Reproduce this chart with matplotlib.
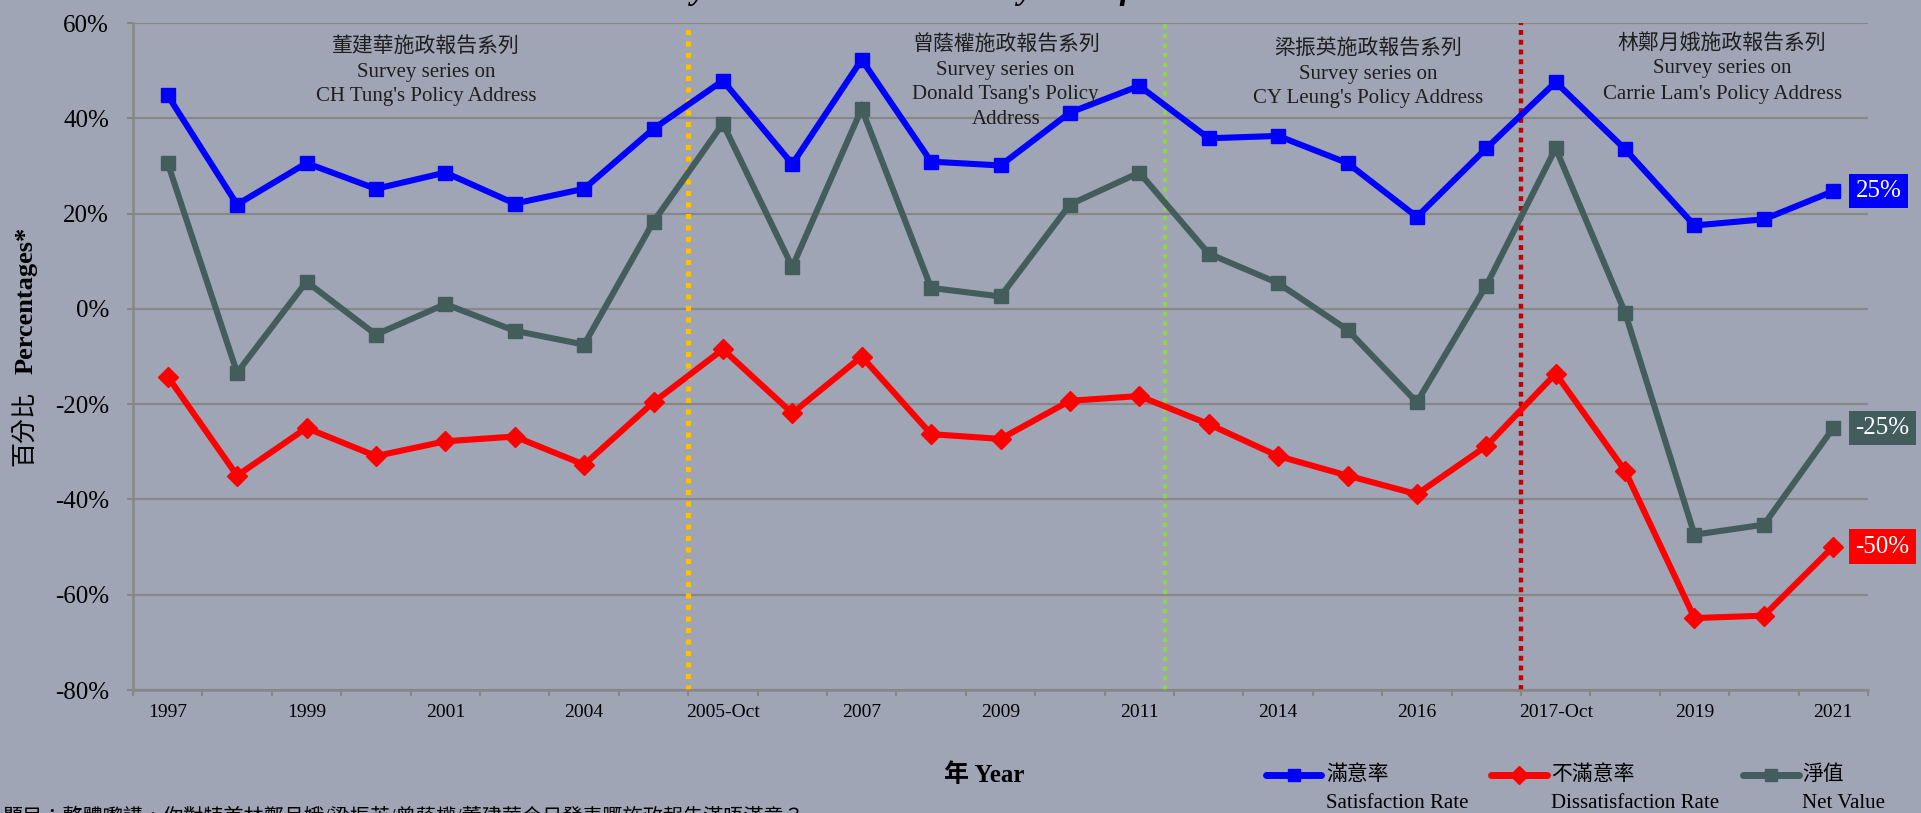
import matplotlib
matplotlib.use('Agg')
import matplotlib.pyplot as plt
from matplotlib.lines import Line2D
from matplotlib.ticker import FuncFormatter

FAM = ['Liberation Serif', 'Noto Sans CJK TC']
plt.rcParams['font.family'] = FAM

# ---------------- data ----------------
categories = ['1997', '1998', '1999', '2000', '2001', '2003', '2004', '2005',
              '2005-Oct', '2006', '2007', '2008', '2009', '2010', '2011', '2013',
              '2014', '2015', '2016', '2017', '2017-Oct', '2018', '2019', '2020', '2021']
satisfaction = [44.8, 21.9, 30.6, 25.2, 28.6, 22.1, 25.2, 37.8, 47.9, 30.4, 52.3, 30.9,
                30.1, 41.2, 46.8, 35.8, 36.3, 30.6, 19.3, 33.7, 47.6, 33.5, 17.5, 18.8, 24.7]
dissatisfaction = [-14.2, -35.0, -25.0, -30.9, -27.8, -26.8, -32.7, -19.6, -8.5, -21.9,
                   -10.0, -26.3, -27.3, -19.3, -18.3, -24.2, -30.9, -35.0, -38.9, -28.8,
                   -13.6, -34.0, -64.9, -64.4, -49.9]
net_value = [30.6, -13.4, 5.7, -5.4, 1.0, -4.6, -7.5, 18.3, 38.9, 8.8, 42.0, 4.4, 2.6,
             21.9, 28.6, 11.6, 5.4, -4.4, -19.6, 4.9, 33.7, -0.8, -47.4, -45.3, -25.0]
y_ticks = [60, 40, 20, 0, -20, -40, -60, -80]

series_zh = ['滿意率', '不滿意率', '淨值']
series_en = ['Satisfaction Rate', 'Dissatisfaction Rate', 'Net Value']

era_texts = [
    ['董建華施政報告系列', 'Survey series on', "CH Tung's Policy Address"],
    ['曾蔭權施政報告系列', 'Survey series on', "Donald Tsang's Policy", 'Address'],
    ['梁振英施政報告系列', 'Survey series on', "CY Leung's Policy Address"],
    ['林鄭月娥施政報告系列', 'Survey series on', "Carrie Lam's Policy Address"],
]
era_breaks = [7.5, 14.37, 19.5]

title_text = 'Policy Address Instant Survey: Satisfaction Rate'
footnote = '題目：整體嚟講，你對特首林鄭月娥/梁振英/曾蔭權/董建華今日發表嘅施政報告滿唔滿意？'

# ---------------- style ----------------
BG = '#A0A5B6'
GRID = '#878787'
BLUE = '#0000FF'
RED = '#FF0000'
GREY = '#435C5C'
colors = [BLUE, RED, GREY]
markers = ['s', 'D', 's']
msizes = [10.5, 10.0, 10.5]

W, H = 1921, 813
fig = plt.figure(figsize=(W / 100, H / 100), dpi=100, facecolor=BG)
L, R, T, B = 133, 1868, 23, 690
ax = fig.add_axes([L / W, 1 - B / H, (R - L) / W, (B - T) / H], facecolor=BG)

x = list(range(len(categories)))
for vals, c, m, ms in zip([satisfaction, dissatisfaction, net_value], colors, markers, msizes):
    ax.plot(x, vals, color=c, lw=4.4, marker=m, ms=ms, mfc=c, mec=c, zorder=3,
            solid_joinstyle='miter')

# era separators
ax.axvline(era_breaks[0], color='#FFC000', lw=3.6, dashes=(1.0, 1.3), zorder=2)
ax.axvline(era_breaks[1], color='#92D050', lw=3.0, dashes=(1.1, 1.2), zorder=2)
ax.axvline(era_breaks[2], color='#C00000', lw=3.2, dashes=(1.1, 1.1), zorder=2)

ax.set_xlim(-0.5, len(categories) - 0.5)
ax.set_ylim(-80, 60)

# ticks
ax.set_xticks(x)
ax.set_xticklabels([c if i % 2 == 0 else '' for i, c in enumerate(categories)])
ax.set_xticks([i - 0.5 for i in range(len(categories) + 1)], minor=True)
ax.tick_params(axis='x', which='major', length=0, pad=10, labelsize=14, labelcolor='black')
ax.tick_params(axis='x', which='minor', length=4, width=1.5, color=GRID, direction='out')

ax.set_yticks(y_ticks)
ax.yaxis.set_major_formatter(FuncFormatter(lambda v, p: f'{v:.0f}%'))
ax.tick_params(axis='y', length=4.3, width=1.5, color=GRID, pad=13, labelsize=18,
               labelcolor='black')

ax.yaxis.grid(True, color=GRID, lw=1.6)
ax.set_axisbelow(True)
for s in ['top', 'right']:
    ax.spines[s].set_visible(False)
for s in ['left', 'bottom']:
    ax.spines[s].set_color(GRID)
    ax.spines[s].set_linewidth(1.8)

# era annotations (axes fraction positions)
era_pos = [(0.169, 47), (0.503, 45), (0.712, 49), (0.916, 44)]
for lines, (xf, ytop) in zip(era_texts, era_pos):
    for k, line in enumerate(lines):
        ypx = ytop + 25 * k
        ax.text(xf, (B - ypx) / (B - T), line, transform=ax.transAxes, ha='center',
                va='center', fontsize=15, color='#1E1E1E')

# end labels
for vals, c in zip([satisfaction, net_value, dissatisfaction], [BLUE, GREY, RED]):
    v = vals[-1]
    ax.annotate(f'{round(v):.0f}%', xy=(x[-1], v), xytext=(16, 0), textcoords='offset points',
                ha='left', va='center', fontsize=18, color='white', annotation_clip=False,
                bbox=dict(boxstyle='square,pad=0.25', fc=c, ec='none'))

# axis titles
fig.text(26 / W, 1 - 428 / H, '百分比', rotation=90, ha='center', va='center', fontsize=18,
         color='black')
fig.text(26 / W, 1 - 300 / H, 'Percentages*', rotation=90, ha='center', va='center',
         fontsize=19, weight='bold', color='black')
fig.text(984 / W, 1 - 775 / H, '年 Year', ha='center', va='center', fontsize=18,
         weight='bold', color='black')

# legend (manual, two-line labels)
leg_x = [(1266, 1321, 1326), (1491, 1547, 1551), (1743, 1799, 1802)]
for (x0, x1, tx), c, m, zh, en in zip(leg_x, colors, markers, series_zh, series_en):
    yf = 1 - 775 / H
    fig.add_artist(Line2D([x0 / W, (x0 + x1) / 2 / W, x1 / W], [yf, yf, yf],
                          transform=fig.transFigure, color=c, lw=5, marker=m, ms=9,
                          markevery=[1], solid_capstyle='round'))
    fig.text(tx / W, yf, zh, ha='left', va='center', fontsize=15, color='black')
    fig.text(tx / W, 1 - 803 / H, en, ha='left', va='center', fontsize=15, color='black')

# clipped title & footnote
fig.text(0.497, 1 + 1 / H, title_text, ha='center', va='baseline', fontsize=24,
         weight='bold', style='italic', color='black')
fig.text(0.001, 1 - 808 / H, footnote, ha='left', va='top', fontsize=14.5, color='black')

fig.savefig('out.png', dpi=100, facecolor=BG)
